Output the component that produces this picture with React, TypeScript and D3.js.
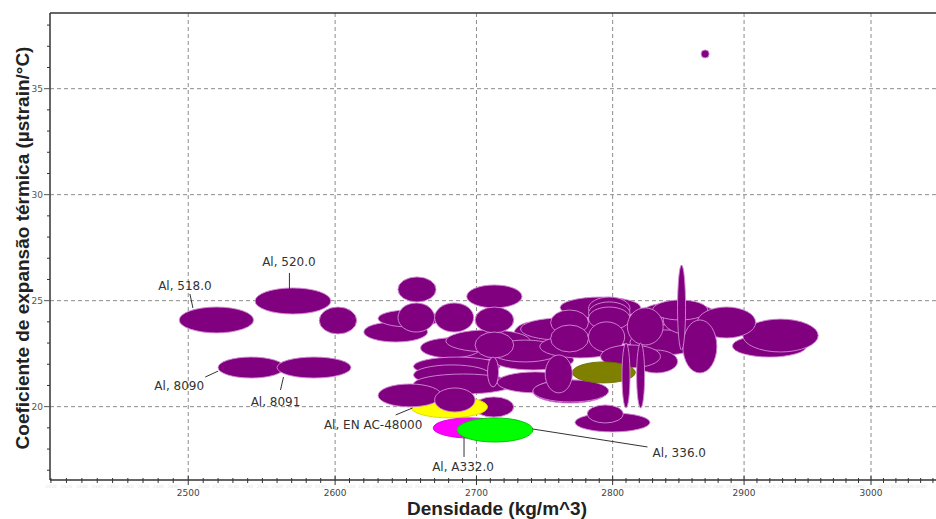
import React from 'react';
import * as d3 from 'd3';

type Range4 = [number, number, number, number]; // [density min, density max, CTE min, CTE max]

// Tick values
const xMajorTicks = [2500, 2600, 2700, 2800, 2900, 3000];
const yMajorTicks = [20, 25, 30, 35];

// Labelled stand-alone alloys
const labelledNames = ['Al, 518.0', 'Al, 520.0', 'Al, 8090', 'Al, 8091'];
const labelledRanges: Range4[] = [
  [2494, 2544, 23.48, 24.7],
  [2545, 2597, 24.37, 25.6],
  [2520, 2565, 21.35, 22.34],
  [2560, 2611, 21.35, 22.34],
];

// Unlabelled stand-alone alloy next to 520.0
const looseRanges: Range4[] = [[2589, 2615, 23.43, 24.7]];

// Main cluster, back layer
const clusterBack: Range4[] = [
  [2667, 2732, 22.2, 23.38],
  [2620, 2665, 23.05, 24.0],
  [2630, 2674, 23.76, 24.56],
  [2660, 2703, 22.3, 23.24],
  [2655, 2717, 21.45, 22.34],
  [2655, 2710, 21.02, 21.97],
  [2655, 2727, 20.6, 21.54],
  [2698, 2727, 19.51, 20.46],
  [2712, 2771, 21.73, 22.67],
  [2715, 2771, 20.65, 21.64],
  [2727, 2756, 22.81, 24.0],
  [2678, 2739, 22.58, 23.62],
  [2710, 2761, 22.11, 23.14],
  [2732, 2791, 23.14, 24.18],
  [2746, 2806, 22.3, 23.38],
  [2761, 2821, 24.18, 25.17],
  [2791, 2851, 22.91, 24.0],
  [2813, 2866, 22.44, 23.62],
  [2821, 2866, 23.85, 24.89],
  [2741, 2796, 20.17, 21.26],
  [2693, 2733, 24.66, 25.74],
  [2644, 2671, 24.94, 26.12],
  [2644, 2670, 23.52, 24.89],
  [2670, 2698, 23.52, 24.89],
  [2699, 2727, 23.48, 24.7],
  [2699, 2727, 22.3, 23.52],
  [2838, 2882, 23.38, 24.8],
  [2830, 2872, 24.09, 25.03],
  [2754, 2782, 23.38, 24.56],
  [2754, 2782, 22.58, 23.85],
  [2782, 2813, 24.09, 25.17],
  [2782, 2813, 23.85, 24.94],
  [2782, 2813, 23.62, 24.7],
  [2782, 2809, 22.58, 24.0],
  [2811, 2838, 22.91, 24.66],
  [2891, 2949, 22.34, 23.38],
  [2899, 2958, 22.58, 24.13],
  [2864, 2909, 23.24, 24.7],
  [2853, 2879, 21.59, 24.09],
  [2817, 2849, 21.59, 22.67],
  [2791, 2836, 21.83, 22.91],
  [2741, 2797, 20.22, 21.26],
  [2772, 2828, 18.81, 19.7],
  [2781, 2808, 19.23, 20.08],
];

// Main cluster, front layer
const clusterFront: Range4[] = [
  [2630, 2675, 19.99, 21.07],
  [2670, 2699, 19.75, 20.88],
  [2750, 2770, 20.65, 22.44],
  [2708, 2716, 20.93, 22.34],
  [2849, 2855, 22.67, 26.68],
  [2807, 2813, 19.94, 23.0],
  [2818, 2824, 19.94, 23.0],
];

// Highlighted alloys
const highlightNames = ['Al, EN AC-48000', '', 'Al, A332.0', 'Al, 336.0'];
const highlightRanges: Range4[] = [
  [2653, 2708, 19.47, 20.5],
  [2770, 2817, 21.12, 22.11],
  [2669, 2722, 18.52, 19.47],
  [2686, 2741, 18.33, 19.47],
];

// Single alloy with a point value
const pointRanges: Range4[] = [[2870, 2870, 36.64, 36.64]];

const W = 936;
const H = 519;
const PLOT = { left: 50, right: 936, top: 13, bottom: 480 };

const PURPLE = '#800080';
const PURPLE_EDGE = '#d58ad5';
const highlightFill = ['#ffff00', '#808000', '#ff00ff', '#00ff00'];
const highlightEdge = ['#d8d800', '#6a6a00', '#d000d0', '#00c000'];

// Leader-line and label placement, offsets from the ellipse centre
const labelLayout: Record<string, { from: [number, number]; to: [number, number]; text: [number, number]; anchor: string }> = {
  'Al, 518.0': { from: [-23.5, -12], to: [-26.5, -26], text: [-31.5, -30], anchor: 'middle' },
  'Al, 520.0': { from: [-3.5, -12], to: [-3.5, -28], text: [-4, -35], anchor: 'middle' },
  'Al, 8090': { from: [-33, 3.5], to: [-46, 9.5], text: [-72, 22.5], anchor: 'middle' },
  'Al, 8091': { from: [-30.5, 9.5], to: [-33.5, 22.5], text: [-38.5, 38.5], anchor: 'middle' },
  'Al, EN AC-48000': { from: [-36.5, 1], to: [-53.5, 8], text: [-76, 22], anchor: 'middle' },
  'Al, A332.0': { from: [-6, 10], to: [-6, 29], text: [-7, 43], anchor: 'middle' },
  'Al, 336.0': { from: [37.5, -1], to: [152.5, 17], text: [157.5, 27], anchor: 'start' },
};

const x = d3.scaleLog().domain([2409.4, 3052.5]).range([PLOT.left, PLOT.right]);
const y = d3.scaleLinear().domain([16.54, 38.57]).range([PLOT.bottom, PLOT.top]);

function geom(r: Range4) {
  const x0 = x(r[0]);
  const x1 = x(r[1]);
  const y0 = y(r[2]);
  const y1 = y(r[3]);
  return {
    cx: (x0 + x1) / 2,
    cy: (y0 + y1) / 2,
    rx: Math.max((x1 - x0) / 2, 4),
    ry: Math.max((y0 - y1) / 2, 4),
  };
}

const labelFont = "'DejaVu Sans', 'Liberation Sans', sans-serif";
const titleFont = "'Liberation Sans', Arial, sans-serif";

function Bubble({ r, fill, stroke }: { r: Range4; fill: string; stroke: string }) {
  const g = geom(r);
  return <ellipse cx={g.cx} cy={g.cy} rx={g.rx} ry={g.ry} fill={fill} stroke={stroke} strokeWidth={0.9} />;
}

function Label({ name, r }: { name: string; r: Range4 }) {
  const l = labelLayout[name];
  if (!l) return null;
  const g = geom(r);
  return (
    <g>
      <line x1={g.cx + l.from[0]} y1={g.cy + l.from[1]} x2={g.cx + l.to[0]} y2={g.cy + l.to[1]} stroke="#333" strokeWidth={1} />
      <text x={g.cx + l.text[0]} y={g.cy + l.text[1]} textAnchor={l.anchor} fontFamily={labelFont} fontSize={12} fill="#333">
        {name}
      </text>
    </g>
  );
}

export default function App() {
  const xMinor = d3.range(2410, 3051, 10).filter((v) => !xMajorTicks.includes(v));
  const yMinor = d3.range(17, 39, 1).filter((v) => !yMajorTicks.includes(v));

  return (
    <svg width={W} height={H} style={{ position: 'absolute', left: 0, top: 0, background: '#fff' }}>
      <rect width={W} height={H} fill="#fff" />

      {/* grid */}
      {xMajorTicks.map((t) => (
        <line key={'gx' + t} x1={x(t)} x2={x(t)} y1={PLOT.top} y2={PLOT.bottom} stroke="#8c8c8c" strokeWidth={1} strokeDasharray="4,3" />
      ))}
      {yMajorTicks.map((t) => (
        <line key={'gy' + t} x1={PLOT.left} x2={PLOT.right} y1={y(t)} y2={y(t)} stroke="#8c8c8c" strokeWidth={1} strokeDasharray="4,3" />
      ))}

      {/* bubbles */}
      {looseRanges.map((r, i) => <Bubble key={'lo' + i} r={r} fill={PURPLE} stroke={PURPLE_EDGE} />)}
      {labelledRanges.map((r, i) => <Bubble key={'la' + i} r={r} fill={PURPLE} stroke={PURPLE_EDGE} />)}
      {clusterBack.map((r, i) => <Bubble key={'cb' + i} r={r} fill={PURPLE} stroke={PURPLE_EDGE} />)}
      {highlightRanges.slice(0, 2).map((r, i) => (
        <Bubble key={'h' + i} r={r} fill={highlightFill[i]} stroke={highlightEdge[i]} />
      ))}
      {clusterFront.map((r, i) => <Bubble key={'cf' + i} r={r} fill={PURPLE} stroke={PURPLE_EDGE} />)}
      {highlightRanges.slice(2).map((r, i) => (
        <Bubble key={'ht' + i} r={r} fill={highlightFill[i + 2]} stroke={highlightEdge[i + 2]} />
      ))}
      {pointRanges.map((r, i) => <Bubble key={'pt' + i} r={r} fill={PURPLE} stroke={PURPLE_EDGE} />)}

      {/* labels */}
      {labelledNames.map((n, i) => <Label key={n} name={n} r={labelledRanges[i]} />)}
      {highlightNames.map((n, i) => (n ? <Label key={n} name={n} r={highlightRanges[i]} /> : null))}

      {/* frame */}
      <line x1={PLOT.left} x2={PLOT.right} y1={PLOT.top} y2={PLOT.top} stroke="#333" strokeWidth={1.5} />
      <line x1={PLOT.left} x2={PLOT.left} y1={PLOT.top} y2={PLOT.bottom} stroke="#333" strokeWidth={1.5} />
      <line x1={PLOT.left} x2={PLOT.right} y1={PLOT.bottom} y2={PLOT.bottom} stroke="#333" strokeWidth={1.5} />

      {/* x axis ticks, with the faint log-axis minor labels */}
      {xMinor.map((t) => (
        <g key={'xm' + t}>
          <line x1={x(t)} x2={x(t)} y1={PLOT.bottom - 2} y2={PLOT.bottom + 3} stroke="#333" strokeWidth={1} />
          {x(t) < PLOT.right - 8 && (
            <text x={x(t)} y={PLOT.bottom + 8} textAnchor="middle" fontFamily={labelFont} fontSize={4.5} fill="#e6e6e6">
              {t}
            </text>
          )}
        </g>
      ))}
      {xMajorTicks.map((t) => (
        <g key={'xM' + t}>
          <line x1={x(t)} x2={x(t)} y1={PLOT.bottom - 4} y2={PLOT.bottom + 5} stroke="#333" strokeWidth={1} />
          <text x={x(t)} y={PLOT.bottom + 16} textAnchor="middle" fontFamily={labelFont} fontSize={9} fill="#444">
            {t}
          </text>
        </g>
      ))}

      {/* y axis ticks */}
      {yMinor.map((t) => (
        <line key={'ym' + t} x1={PLOT.left - 3} x2={PLOT.left} y1={y(t)} y2={y(t)} stroke="#333" strokeWidth={1} />
      ))}
      {yMajorTicks.map((t) => (
        <g key={'yM' + t}>
          <line x1={PLOT.left - 6} x2={PLOT.left} y1={y(t)} y2={y(t)} stroke="#555" strokeWidth={1} />
          <text x={PLOT.left - 7} y={y(t) + 3} textAnchor="end" fontFamily={labelFont} fontSize={9} fill="#555">
            {t}
          </text>
        </g>
      ))}

      {/* axis titles */}
      <text x={497} y={515} textAnchor="middle" fontFamily={titleFont} fontWeight="bold" fontSize={19} fill="#222">
        Densidade (kg/m^3)
      </text>
      <text
        transform={`translate(28.5, 248) rotate(-90)`}
        textAnchor="middle"
        fontFamily={titleFont}
        fontWeight="bold"
        fontSize={19}
        fill="#222"
      >
        Coeficiente de expansão térmica (µstrain/°C)
      </text>
    </svg>
  );
}
